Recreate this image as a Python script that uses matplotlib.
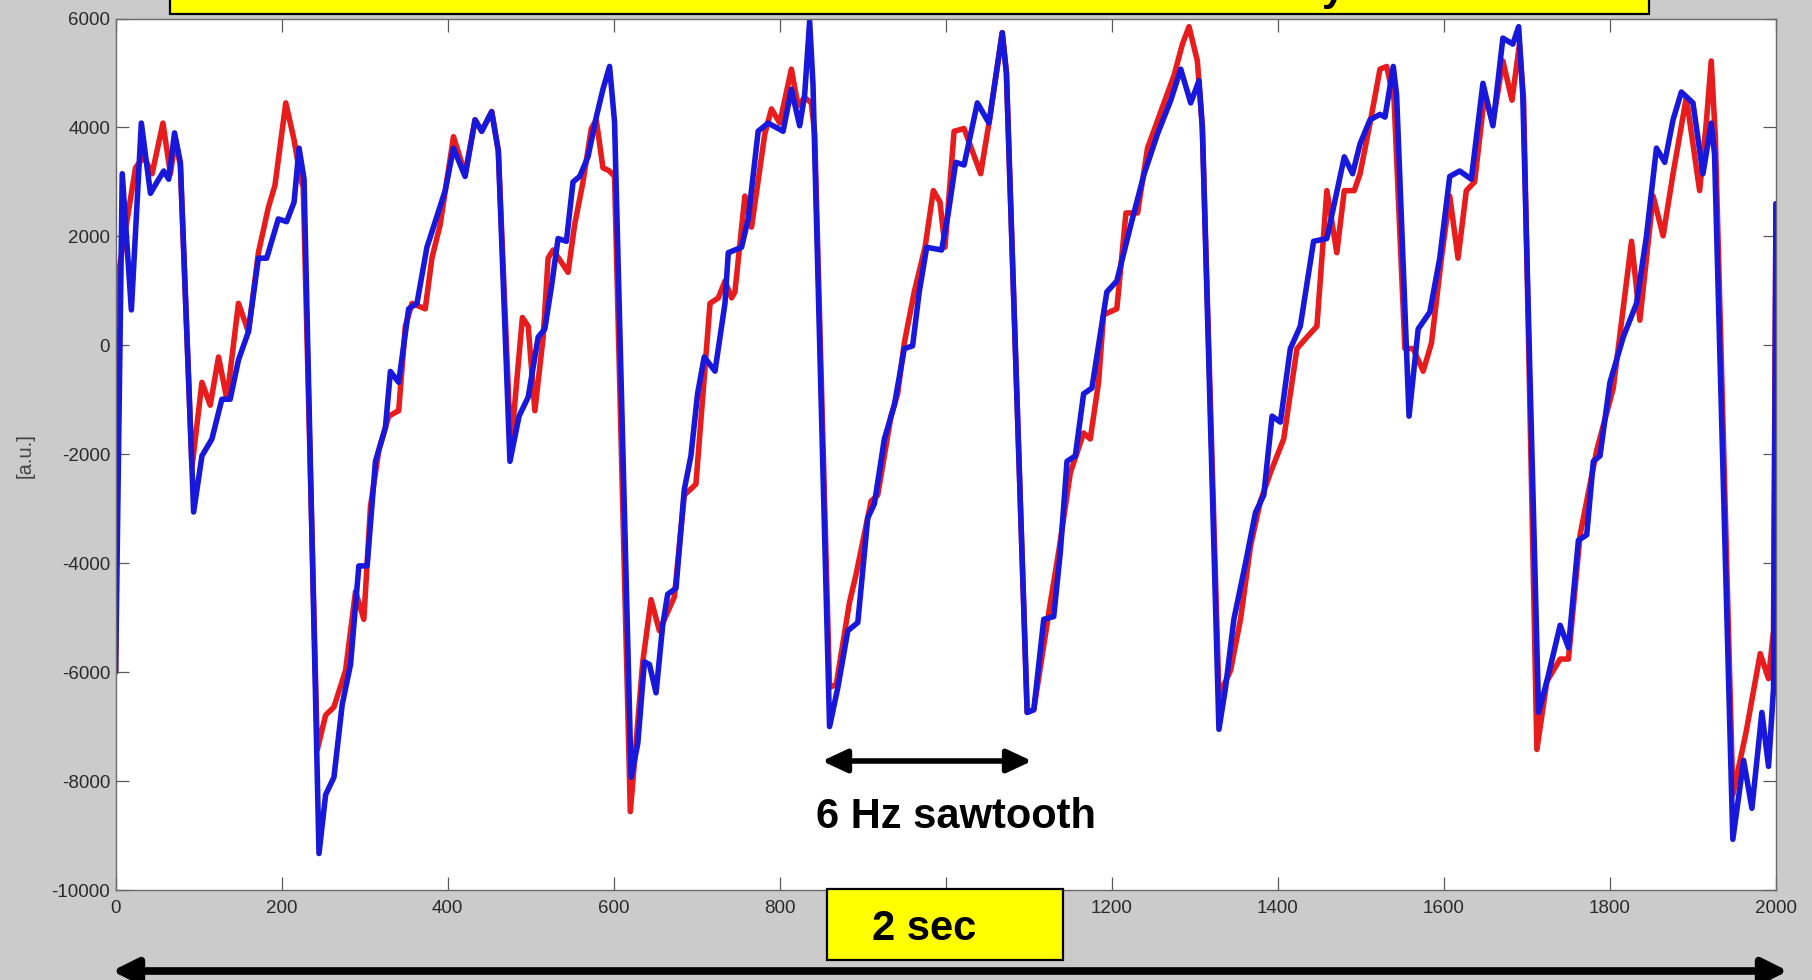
import matplotlib
matplotlib.use("Agg")
import matplotlib.pyplot as plt
from matplotlib.patches import Rectangle, FancyArrowPatch, ArrowStyle

plt.rcParams['font.family'] = ['Liberation Sans', 'DejaVu Sans']

# ---- signals (sample index, amplitude in a.u.) ----
red_x = [0, 2, 12, 24, 34, 44, 57, 66, 72, 78, 92, 104, 114, 124, 134, 148, 160, 172,
         184, 192, 205, 215, 223, 226, 243, 253, 263, 277, 289, 299, 307, 317, 329, 341,
         349, 357, 373, 381, 391, 407, 421, 433, 441, 453, 461, 476, 490, 497, 505, 515,
         521, 527, 545, 553, 563, 573, 579, 587, 595, 601, 620, 635, 645, 655, 673, 685,
         699, 716, 726, 734, 742, 746, 758, 766, 782, 790, 800, 814, 822, 830, 838, 842,
         860, 868, 884, 892, 910, 918, 934, 942, 950, 962, 975, 985, 993, 999, 1010, 1022,
         1042, 1052, 1068, 1073, 1098, 1106, 1126, 1136, 1150, 1166, 1174, 1184, 1190,
         1206, 1217, 1231, 1243, 1259, 1275, 1285, 1293, 1303, 1309, 1329, 1343, 1355,
         1367, 1379, 1391, 1407, 1423, 1435, 1447, 1459, 1471, 1480, 1492, 1499, 1511,
         1523, 1531, 1540, 1553, 1563, 1575, 1585, 1597, 1607, 1617, 1627, 1637, 1649,
         1659, 1671, 1682, 1691, 1696, 1712, 1724, 1740, 1750, 1764, 1784, 1804, 1826,
         1836, 1852, 1864, 1876, 1892, 1908, 1916, 1922, 1927, 1948, 1964, 1981, 1991,
         1997, 2000]
red_y = [-6000, 1180, 2120, 3260, 3460, 3150, 4080, 3150, 3770, 3300, -2240, -680, -1100,
         -215, -990, 770, 250, 1700, 2530, 2940, 4450, 3770, 3050, 2900, -7420, -6790,
         -6640, -5970, -4520, -5030, -2960, -1930, -1300, -1200, 350, 770, 670, 1600, 2220,
         3830, 3150, 4140, 3930, 4290, 3570, -1900, 510, 350, -1200, 150, 1600, 1750, 1340,
         2220, 3000, 3980, 4140, 3260, 3200, 3100, -8560, -5810, -4670, -5240, -4620,
         -2750, -2550, 770, 870, 1180, 870, 980, 2740, 2170, 3880, 4340, 4080, 5070, 4400,
         4550, 4450, 3900, -6280, -6230, -4720, -4200, -2860, -2750, -1300, -890, 40, 980,
         1800, 2840, 2630, 1800, 3930, 3980, 3150, 4080, 5740, 5000, -6740, -6690, -4720,
         -3790, -2340, -1610, -1720, -680, 560, 670, 2430, 2430, 3620, 4290, 4960, 5530,
         5850, 5220, 4000, -6430, -5970, -5030, -3690, -2860, -2340, -1720, -60, 150, 350,
         2840, 1700, 2840, 2840, 3150, 4080, 5070, 5120, 4500, -60, -60, -475, 40, 1600,
         2740, 1600, 2840, 3000, 4600, 4080, 5220, 4500, 5530, 4500, -7420, -6170, -5760,
         -5760, -3480, -1930, -785, 1910, 460, 2740, 2010, 3150, 4550, 2840, 4080, 5220,
         3800, -8250, -7100, -5660, -6120, -5240, 2600]

blue_x = [0, 8, 19, 31, 42, 50, 58, 64, 71, 78, 94, 104, 116, 128, 138, 148, 160, 172,
          182, 196, 206, 215, 221, 227, 245, 253, 263, 273, 283, 293, 303, 313, 325, 331,
          341, 353, 363, 375, 385, 397, 407, 421, 433, 441, 453, 461, 475, 486, 497, 509,
          517, 525, 533, 543, 551, 559, 569, 579, 587, 595, 601, 621, 629, 637, 643, 651,
          659, 665, 675, 685, 693, 701, 709, 722, 734, 738, 754, 762, 774, 786, 804, 814,
          824, 830, 836, 840, 860, 870, 882, 894, 906, 914, 926, 938, 950, 960, 968, 977,
          995, 1003, 1012, 1022, 1038, 1052, 1068, 1073, 1098, 1106, 1118, 1130, 1138,
          1146, 1156, 1166, 1176, 1194, 1206, 1223, 1239, 1255, 1271, 1283, 1295, 1305,
          1309, 1329, 1337, 1347, 1361, 1373, 1383, 1393, 1403, 1415, 1427, 1443, 1459,
          1480, 1490, 1499, 1511, 1523, 1529, 1539, 1543, 1558, 1569, 1583, 1595, 1607,
          1619, 1633, 1647, 1659, 1671, 1683, 1690, 1695, 1714, 1724, 1740, 1750, 1762,
          1772, 1780, 1788, 1800, 1816, 1832, 1844, 1856, 1866, 1876, 1886, 1900, 1912,
          1922, 1926, 1948, 1961, 1971, 1983, 1991, 1997, 2000]
blue_y = [-6000, 3150, 650, 4080, 2790, 3000, 3200, 3050, 3900, 3360, -3060, -2030,
          -1720, -990, -990, -270, 250, 1600, 1600, 2320, 2270, 2630, 3620, 3050, -9330,
          -8250, -7930, -6590, -5860, -4050, -4050, -2130, -1510, -480, -680, 670, 770,
          1800, 2270, 2840, 3620, 3100, 4140, 3930, 4290, 3570, -2130, -1300, -950, 150,
          300, 1080, 1960, 1910, 3000, 3100, 3460, 4190, 4700, 5120, 4100, -7930, -7310,
          -5810, -5860, -6380, -5140, -4570, -4460, -2650, -2030, -890, -215, -475, 770,
          1700, 1800, 2320, 3930, 4080, 3930, 4700, 4030, 4600, 5950, 4800, -7000, -6280,
          -5240, -5090, -3170, -2910, -1720, -1100, -60, -10, 980, 1800, 1750, 2430, 3360,
          3310, 4450, 4080, 5740, 5000, -6740, -6690, -5030, -4980, -3790, -2130, -2030,
          -890, -785, 980, 1180, 2220, 3150, 3880, 4500, 5070, 4450, 4860, 4000, -7050,
          -6280, -5030, -4000, -3070, -2750, -1300, -1410, -60, 350, 1910, 1960, 3460,
          3150, 3700, 4140, 4240, 4190, 5120, 4600, -1300, 300, 610, 1600, 3100, 3200,
          3050, 4810, 4030, 5640, 5530, 5850, 4600, -6740, -6170, -5140, -5550, -3580,
          -3480, -2130, -2030, -680, 150, 770, 2010, 3620, 3360, 4140, 4650, 4450, 3150,
          4080, 3500, -9070, -7620, -8500, -6740, -7730, -6300, 2600]

x_ticks = [0, 200, 400, 600, 800, 1000, 1200, 1400, 1600, 1800, 2000]
x_tick_labels = ['0', '200', '400', '600', '800', '1000', '1200', '1400', '1600', '1800', '2000']
y_ticks = [-10000, -8000, -6000, -4000, -2000, 0, 2000, 4000, 6000]
y_tick_labels = ['-10000', '-8000', '-6000', '-4000', '-2000', '0', '2000', '4000', '6000']

W, H = 1812, 980
fig = plt.figure(figsize=(W / 100, H / 100), dpi=100, facecolor='#cbcbcb')


def fx(px):
    return px / W


def fy(py_from_top):
    return 1 - py_from_top / H


ax_l, ax_r, ax_t, ax_b = 115.6, 1776, 18.5, 890
ax = fig.add_axes([fx(ax_l), fy(ax_b), (ax_r - ax_l) / W, (ax_b - ax_t) / H])
ax.set_facecolor('white')

ax.plot(red_x, red_y, color='#e81c1c', lw=4.0, solid_joinstyle='round',
        solid_capstyle='round')
ax.plot(blue_x, blue_y, color='#1818dc', lw=4.0, solid_joinstyle='round',
        solid_capstyle='round')

ax.set_xlim(0, 2000)
ax.set_ylim(-10000, 6000)
ax.set_xticks(x_ticks)
ax.set_xticklabels(x_tick_labels)
ax.set_yticks(y_ticks)
ax.set_yticklabels(y_tick_labels)
ax.tick_params(direction='in', length=9.5, width=0.9, color='#5a5a5a',
               top=True, right=True, labelsize=13.5, labelcolor='#2a2a2a')
ax.tick_params(axis='x', pad=7)
ax.tick_params(axis='y', pad=4)
for sp in ax.spines.values():
    sp.set_color('#6a6a6a')
    sp.set_linewidth(1.0)

fig.text(fx(25), fy(456), '[a.u.]', rotation=90, ha='center', va='center',
         fontsize=14.5, color='#444444')

# header banner running off the top edge
fig.add_artist(Rectangle((fx(170), fy(14)), (1649 - 170) / W, 0.08,
                         transform=fig.transFigure, facecolor='#ffff00',
                         edgecolor='black', lw=1.6, zorder=3))
fig.text(fx(1322), 1.0, 'y', fontsize=30, fontweight='bold', color='black',
         ha='left', va='baseline', zorder=4)

# time-span label box
fig.add_artist(Rectangle((fx(827), fy(960)), (1063 - 827) / W, (960 - 889) / H,
                         transform=fig.transFigure, facecolor='#ffff00',
                         edgecolor='black', lw=1.6, zorder=3))
fig.text(fx(872), fy(940), '2 sec', fontsize=30, fontweight='bold', color='black',
         ha='left', va='baseline', zorder=4)

fig.text(fx(816), fy(828), '6 Hz sawtooth', fontsize=30, fontweight='bold',
         color='black', ha='left', va='baseline', zorder=4)

# double-headed arrows
mid_arrow = FancyArrowPatch((fx(822), fy(761)), (fx(1032), fy(761)),
                            transform=fig.transFigure,
                            arrowstyle=ArrowStyle('<|-|>', head_length=15, head_width=7),
                            mutation_scale=1, lw=4.0, color='black',
                            shrinkA=0, shrinkB=0, zorder=4)
fig.add_artist(mid_arrow)
bot_arrow = FancyArrowPatch((fx(112), fy(971)), (fx(1788), fy(971)),
                            transform=fig.transFigure,
                            arrowstyle=ArrowStyle('<|-|>', head_length=15, head_width=7.5),
                            mutation_scale=1, lw=5.5, color='black',
                            shrinkA=0, shrinkB=0, zorder=4)
fig.add_artist(bot_arrow)

fig.savefig('out.png', dpi=100, facecolor=fig.get_facecolor())
